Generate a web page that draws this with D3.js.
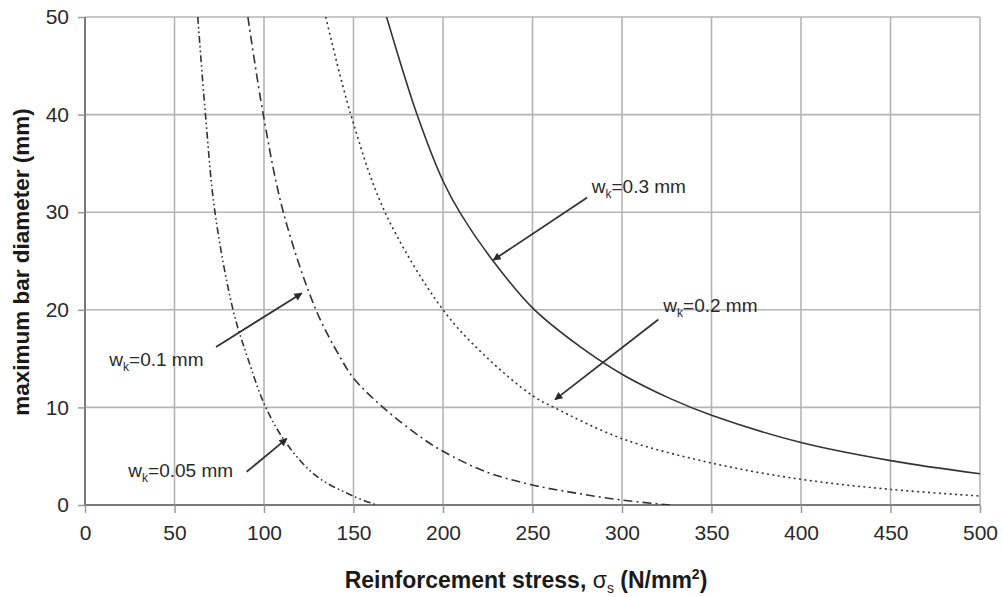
<!DOCTYPE html>
<html>
<head>
<meta charset="utf-8">
<script src="https://cdn.jsdelivr.net/npm/d3@7"></script>
<style>
  body { margin: 0; background: #fff; }
  svg { display: block; }
  text { font-family: "Liberation Sans", Arial, sans-serif; }
</style>
</head>
<body>
<svg id="chart" width="1003" height="597"></svg>
<script>
// ---- data ----
const xTicks = [0, 50, 100, 150, 200, 250, 300, 350, 400, 450, 500];
const yTicks = [0, 10, 20, 30, 40, 50];

const sigma005 = [63, 67.3, 72.6, 82.7, 91, 101, 113, 129, 150, 163];
const diam005  = [50, 40, 30, 20, 15, 10, 6.2, 3.0, 0.9, 0];

const sigma01 = [91, 99.6, 110.8, 129, 143, 150, 166.5, 188, 200, 224, 250, 275, 300, 327];
const diam01  = [50, 40, 30, 20, 15, 13, 10, 6.9, 5.5, 3.4, 2.05, 1.2, 0.5, 0];

const sigma02 = [134.5, 148.5, 167.6, 200, 224, 250, 262, 300, 350, 400, 450, 500];
const diam02  = [50, 40, 30, 20, 15.2, 11.2, 10, 6.8, 4.3, 2.63, 1.6, 0.92];

const sigma03 = [168.5, 185.5, 200, 210, 228, 250, 276, 300, 327, 350, 400, 450, 500];
const diam03  = [50, 40, 33.2, 29.8, 25, 20.2, 16.3, 13.4, 10.9, 9.2, 6.4, 4.55, 3.2];

const seriesNames = ["0.05", "0.1", "0.2", "0.3"];
// annotation label anchors (start x, centre y) and arrow tail/head, in data units
const labelPos   = [[24.2, 3.6], [13.6, 14.9], [323.1, 20.5], [283.1, 32.6]];
const arrowTail  = [[90.3, 3.4], [73.2, 16.2], [320.3, 19.0], [280.6, 31.5]];
const arrowHead  = [[112.7, 6.8], [121.1, 21.7], [262.6, 10.8], [228.1, 25.1]];

// ---- layout ----
const W = 1003, H = 597;
const m = { left: 85, right: 23, top: 17, bottom: 92 };
const iw = W - m.left - m.right, ih = H - m.top - m.bottom;

const svg = d3.select("#chart");
const g = svg.append("g").attr("transform", `translate(${m.left},${m.top})`);

const x = d3.scaleLinear().domain([0, 500]).range([0, iw]);
const y = d3.scaleLinear().domain([0, 50]).range([ih, 0]);

// grid
g.append("g").selectAll("line").data(xTicks).join("line")
  .attr("x1", d => x(d)).attr("x2", d => x(d)).attr("y1", 0).attr("y2", ih)
  .attr("stroke", "#b4b4b4").attr("stroke-width", 1.6);
g.append("g").selectAll("line").data(yTicks).join("line")
  .attr("x1", 0).attr("x2", iw).attr("y1", d => y(d)).attr("y2", d => y(d))
  .attr("stroke", "#b4b4b4").attr("stroke-width", 1.6);

// axes
const xAxis = d3.axisBottom(x).tickValues(xTicks).tickSize(8).tickPadding(12);
const yAxis = d3.axisLeft(y).tickValues(yTicks).tickSize(7).tickPadding(9);
const gx = g.append("g").attr("transform", `translate(0,${ih})`).call(xAxis);
const gy = g.append("g").call(yAxis);
[gx, gy].forEach(a => {
  a.select(".domain").attr("stroke", "#7a7a7a").attr("stroke-width", 2);
  a.selectAll(".tick line").attr("stroke", "#999").attr("stroke-width", 1.5);
  a.selectAll(".tick text").attr("fill", "#2a2a2a")
    .style("font-size", "21px").style("font-family", "'Liberation Sans', Arial, sans-serif");
});
gx.select(".domain").attr("d", `M0,0H${iw}`);
gy.select(".domain").attr("d", `M0,${ih}V0`);

// clip
svg.append("defs").append("clipPath").attr("id", "clip")
  .append("rect").attr("x", 0).attr("y", 0).attr("width", iw).attr("height", ih);

const series = [
  { s: sigma005, d: diam005, dash: "7,3,1.6,3,1.6,3" },
  { s: sigma01,  d: diam01,  dash: "9,4,2,4" },
  { s: sigma02,  d: diam02,  dash: "2,3.4" },
  { s: sigma03,  d: diam03,  dash: null }
];
const line = d3.line().x(p => x(p[0])).y(p => y(p[1])).curve(d3.curveCatmullRom.alpha(0.5));
const curves = g.append("g").attr("clip-path", "url(#clip)");
series.forEach(sr => {
  const pts = sr.s.map((v, i) => [v, sr.d[i]]);
  curves.append("path").datum(pts).attr("d", line)
    .attr("fill", "none").attr("stroke", "#333").attr("stroke-width", 1.6)
    .attr("stroke-dasharray", sr.dash);
});

// arrows
svg.select("defs").append("marker").attr("id", "arrow")
  .attr("viewBox", "0 0 10 10").attr("refX", 9).attr("refY", 5)
  .attr("markerWidth", 10).attr("markerHeight", 8).attr("markerUnits", "userSpaceOnUse")
  .attr("orient", "auto")
  .append("path").attr("d", "M0,0L10,5L0,10Z").attr("fill", "#2a2a2a");

seriesNames.forEach((nm, i) => {
  g.append("line")
    .attr("x1", x(arrowTail[i][0])).attr("y1", y(arrowTail[i][1]))
    .attr("x2", x(arrowHead[i][0])).attr("y2", y(arrowHead[i][1]))
    .attr("stroke", "#333").attr("stroke-width", 1.8)
    .attr("marker-end", "url(#arrow)");
  const t = g.append("text")
    .attr("x", x(labelPos[i][0])).attr("y", y(labelPos[i][1]))
    .attr("dy", "0.35em").attr("fill", "#2a2a2a").style("font-size", "19px");
  t.append("tspan").text("w");
  t.append("tspan").attr("dy", 5).style("font-size", "12px").text("k");
  t.append("tspan").attr("dy", -5).text("=" + nm + " mm");
});

// axis titles
const xt = svg.append("text")
  .attr("x", 526).attr("y", 588)
  .attr("text-anchor", "middle").attr("fill", "#1a1a1a")
  .style("font-size", "23px").style("font-weight", "bold");
xt.append("tspan").text("Reinforcement stress,  ");
xt.append("tspan").style("font-weight", "normal").text("σ");
xt.append("tspan").attr("dy", 5).style("font-size", "14px").style("font-weight", "normal").text("s");
xt.append("tspan").attr("dy", -5).text(" (N/mm");
xt.append("tspan").attr("dy", -9).style("font-size", "14px").text("2");
xt.append("tspan").attr("dy", 9).text(")");

svg.append("text")
  .attr("transform", `translate(29,262) rotate(-90)`)
  .attr("text-anchor", "middle").attr("fill", "#1a1a1a")
  .style("font-size", "22.5px").style("font-weight", "bold")
  .text("maximum bar diameter (mm)");
</script>
</body>
</html>
